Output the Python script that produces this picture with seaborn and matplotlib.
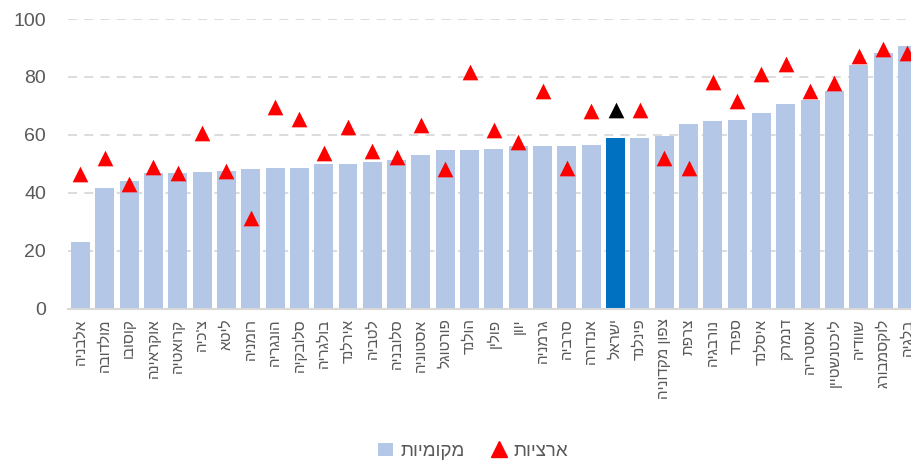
import matplotlib
matplotlib.use("Agg")
import matplotlib.pyplot as plt
from matplotlib.lines import Line2D
from matplotlib.patches import Patch
import seaborn as sns
import pandas as pd

# countries, left to right
countries = ['אלבניה', 'מולדובה', 'קוסובו', 'אוקראינה', 'קרואטיה', "צ'כיה", 'ליטא',
             'רומניה', 'הונגריה', 'סלובקיה', 'בולגריה', 'אירלנד', 'לטביה', 'סלובניה',
             'אסטוניה', 'פורטוגל', 'הולנד', 'פולין', 'יוון', 'גרמניה', 'סרביה',
             'אנדורה', 'ישראל', 'פינלנד', 'צפון מקדוניה', 'צרפת', 'נורבגיה', 'ספרד',
             'איסלנד', 'דנמרק', 'אוסטריה', 'ליכטנשטיין', 'שוודיה', 'לוקסמבורג', 'בלגיה']

# local (bars)
local_vals = [22.9, 41.6, 44.0, 46.7, 47.0, 47.2, 47.7, 48.2, 48.4, 48.6, 49.8, 49.8,
              50.5, 51.2, 53.2, 54.8, 54.8, 55.0, 56.1, 56.2, 56.3, 56.6, 58.9, 59.0,
              59.6, 63.6, 64.7, 65.3, 67.6, 70.8, 72.1, 75.0, 84.3, 88.1, 90.6]

# national (triangles)
national_vals = [46.6, 51.9, 42.9, 49.0, 46.7, 60.6, 47.5, 31.4, 69.6, 65.6, 53.6, 62.7,
                 54.4, 52.4, 63.5, 48.3, 81.7, 61.6, 57.5, 75.0, 48.6, 68.2, 68.5, 68.5,
                 52.0, 48.5, 78.1, 71.7, 81.0, 84.5, 75.2, 77.8, 87.1, 89.6, 88.2]

label_local = 'מקומיות'
label_national = 'ארציות'
highlight = 'ישראל'

df = pd.DataFrame({'country': countries, 'local': local_vals, 'national': national_vals})

bar_pal = {c: ('#0070c0' if c == highlight else '#b4c7e7') for c in countries}
tri_pal = {c: ('#000000' if c == highlight else '#ff0000') for c in countries}

sns.set_style('white')
plt.rcParams['font.family'] = ['Liberation Sans', 'DejaVu Sans']
txt = '#595959'

fig = plt.figure(figsize=(9.12, 4.63), dpi=100)
ax = fig.add_axes([0.0749, 0.3333, 0.9334, 0.6256])

sns.barplot(data=df, x='country', y='local', hue='country', palette=bar_pal,
            order=countries, width=0.78, saturation=1, legend=False, ax=ax,
            zorder=2, linewidth=0)
sns.stripplot(data=df, x='country', y='national', hue='country', palette=tri_pal,
              order=countries, jitter=False, marker='^', size=11.3, linewidth=0,
              legend=False, ax=ax, zorder=3)

ax.set_ylim(0, 100)
ax.set_xlim(-0.5, len(countries) - 0.5)
ax.set_yticks([0, 20, 40, 60, 80, 100])
ax.yaxis.grid(True, linestyle=(0, (5, 4)), color='#d9d9d9', linewidth=1.3, zorder=0)
ax.xaxis.grid(False)
ax.set_axisbelow(True)
for s in ['top', 'right', 'left']:
    ax.spines[s].set_visible(False)
ax.spines['bottom'].set_color('#d9d9d9')
ax.spines['bottom'].set_linewidth(1.5)

ax.set_xticks(range(len(countries)))
# matplotlib has no bidi, so reverse the hebrew strings for display
ax.set_xticklabels([c[::-1] for c in countries], rotation=90, fontsize=11, color=txt)
ax.tick_params(axis='y', labelsize=14, labelcolor=txt, length=0, pad=16)
ax.tick_params(axis='x', length=0, pad=7)
ax.set_xlabel('')
ax.set_ylabel('')

handles = [Patch(facecolor='#b4c7e7', edgecolor='none'),
           Line2D([], [], marker='^', color='#ff0000', linestyle='none', markersize=11.3)]
fig.legend(handles, [label_local[::-1], label_national[::-1]], loc='center',
           bbox_to_anchor=(0.519, 0.025), ncol=2, frameon=False, markerfirst=True,
           fontsize=13.5, labelcolor=txt, handlelength=0.8, handletextpad=0.4,
           columnspacing=1.4)

fig.savefig('out.png', dpi=100)
